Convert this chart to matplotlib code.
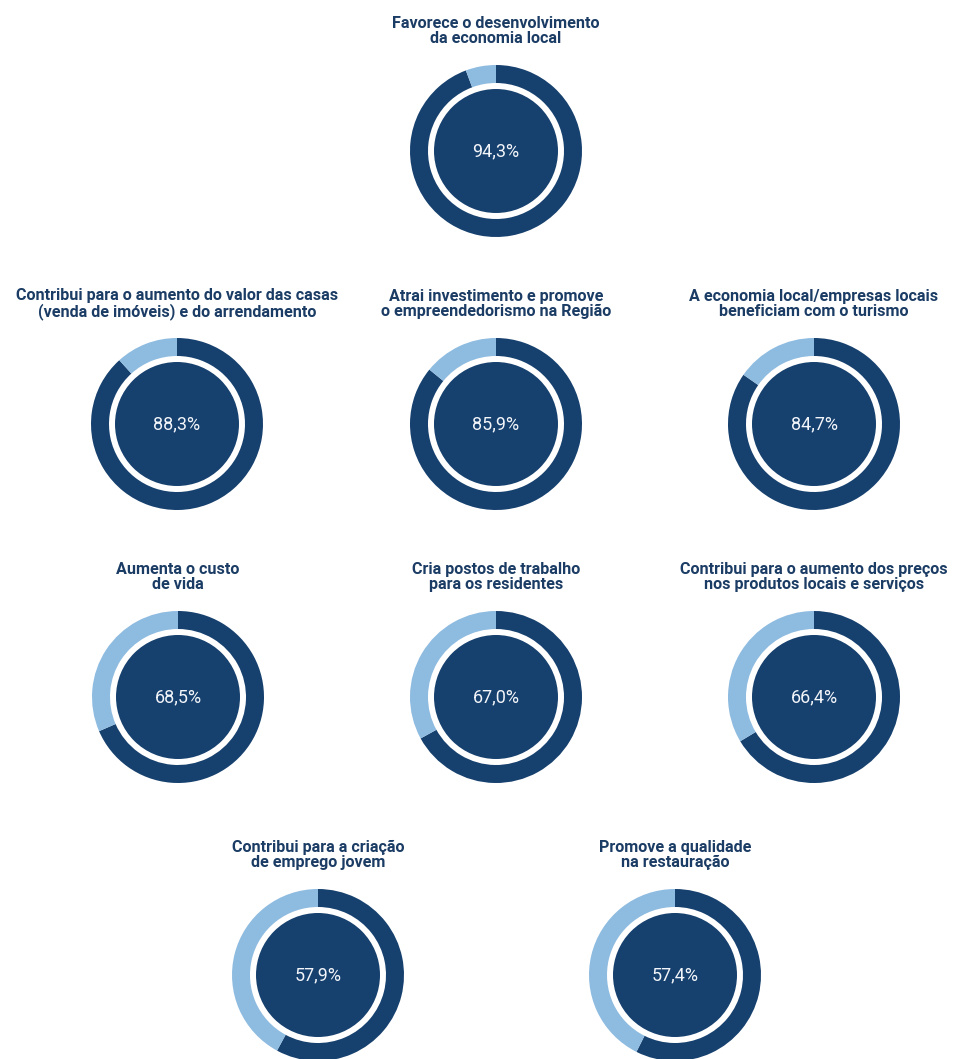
import matplotlib
matplotlib.use('Agg')
import matplotlib.pyplot as plt
from matplotlib.patches import Circle

# data
labels = [
    'Favorece o desenvolvimento\nda economia local',
    'Contribui para o aumento do valor das casas\n(venda de imóveis) e do arrendamento',
    'Atrai investimento e promove\no empreendedorismo na Região',
    'A economia local/empresas locais\nbeneficiam com o turismo',
    'Aumenta o custo\nde vida',
    'Cria postos de trabalho\npara os residentes',
    'Contribui para o aumento dos preços\nnos produtos locais e serviços',
    'Contribui para a criação\nde emprego jovem',
    'Promove a qualidade\nna restauração',
]
values = [94.3, 88.3, 85.9, 84.7, 68.5, 67.0, 66.4, 57.9, 57.4]

DARK = '#16406e'
LIGHT = '#8ebbe0'
TITLE = '#1b3c64'
W, H = 955, 1059

# donut centres in pixel coordinates (x, y from top)
centres = [(496, 151),
           (177, 424), (496, 424), (814, 424),
           (178, 697), (496, 697), (814, 697),
           (318, 975), (675, 975)]

fig = plt.figure(figsize=(W / 100, H / 100), dpi=100)
fig.patch.set_facecolor('white')
ax = fig.add_axes([0, 0, 1, 1])

R_OUT, RING, R_IN = 86, 18, 62

for lab, val, (cx, cy) in zip(labels, values, centres):
    y = H - cy
    ax.pie([val, 100 - val], colors=[DARK, LIGHT], center=(cx, y), radius=R_OUT,
           startangle=90, counterclock=False,
           wedgeprops=dict(width=RING, linewidth=0))
    ax.add_patch(Circle((cx, y), R_IN, color=DARK, lw=0))
    ax.text(cx, y, f'{val:.1f}%'.replace('.', ','), ha='center', va='center',
            fontsize=13, color='#f2f5f9', family='Roboto', fontweight='normal')
    ax.text(cx, y + 120, lab, ha='center', va='center', fontsize=11.6,
            color=TITLE, family='Roboto', fontweight='bold', linespacing=1.0)

ax.set_xlim(0, W)
ax.set_ylim(0, H)
ax.set_aspect('equal')
ax.axis('off')

plt.savefig('out.png', dpi=100, facecolor=fig.get_facecolor())
